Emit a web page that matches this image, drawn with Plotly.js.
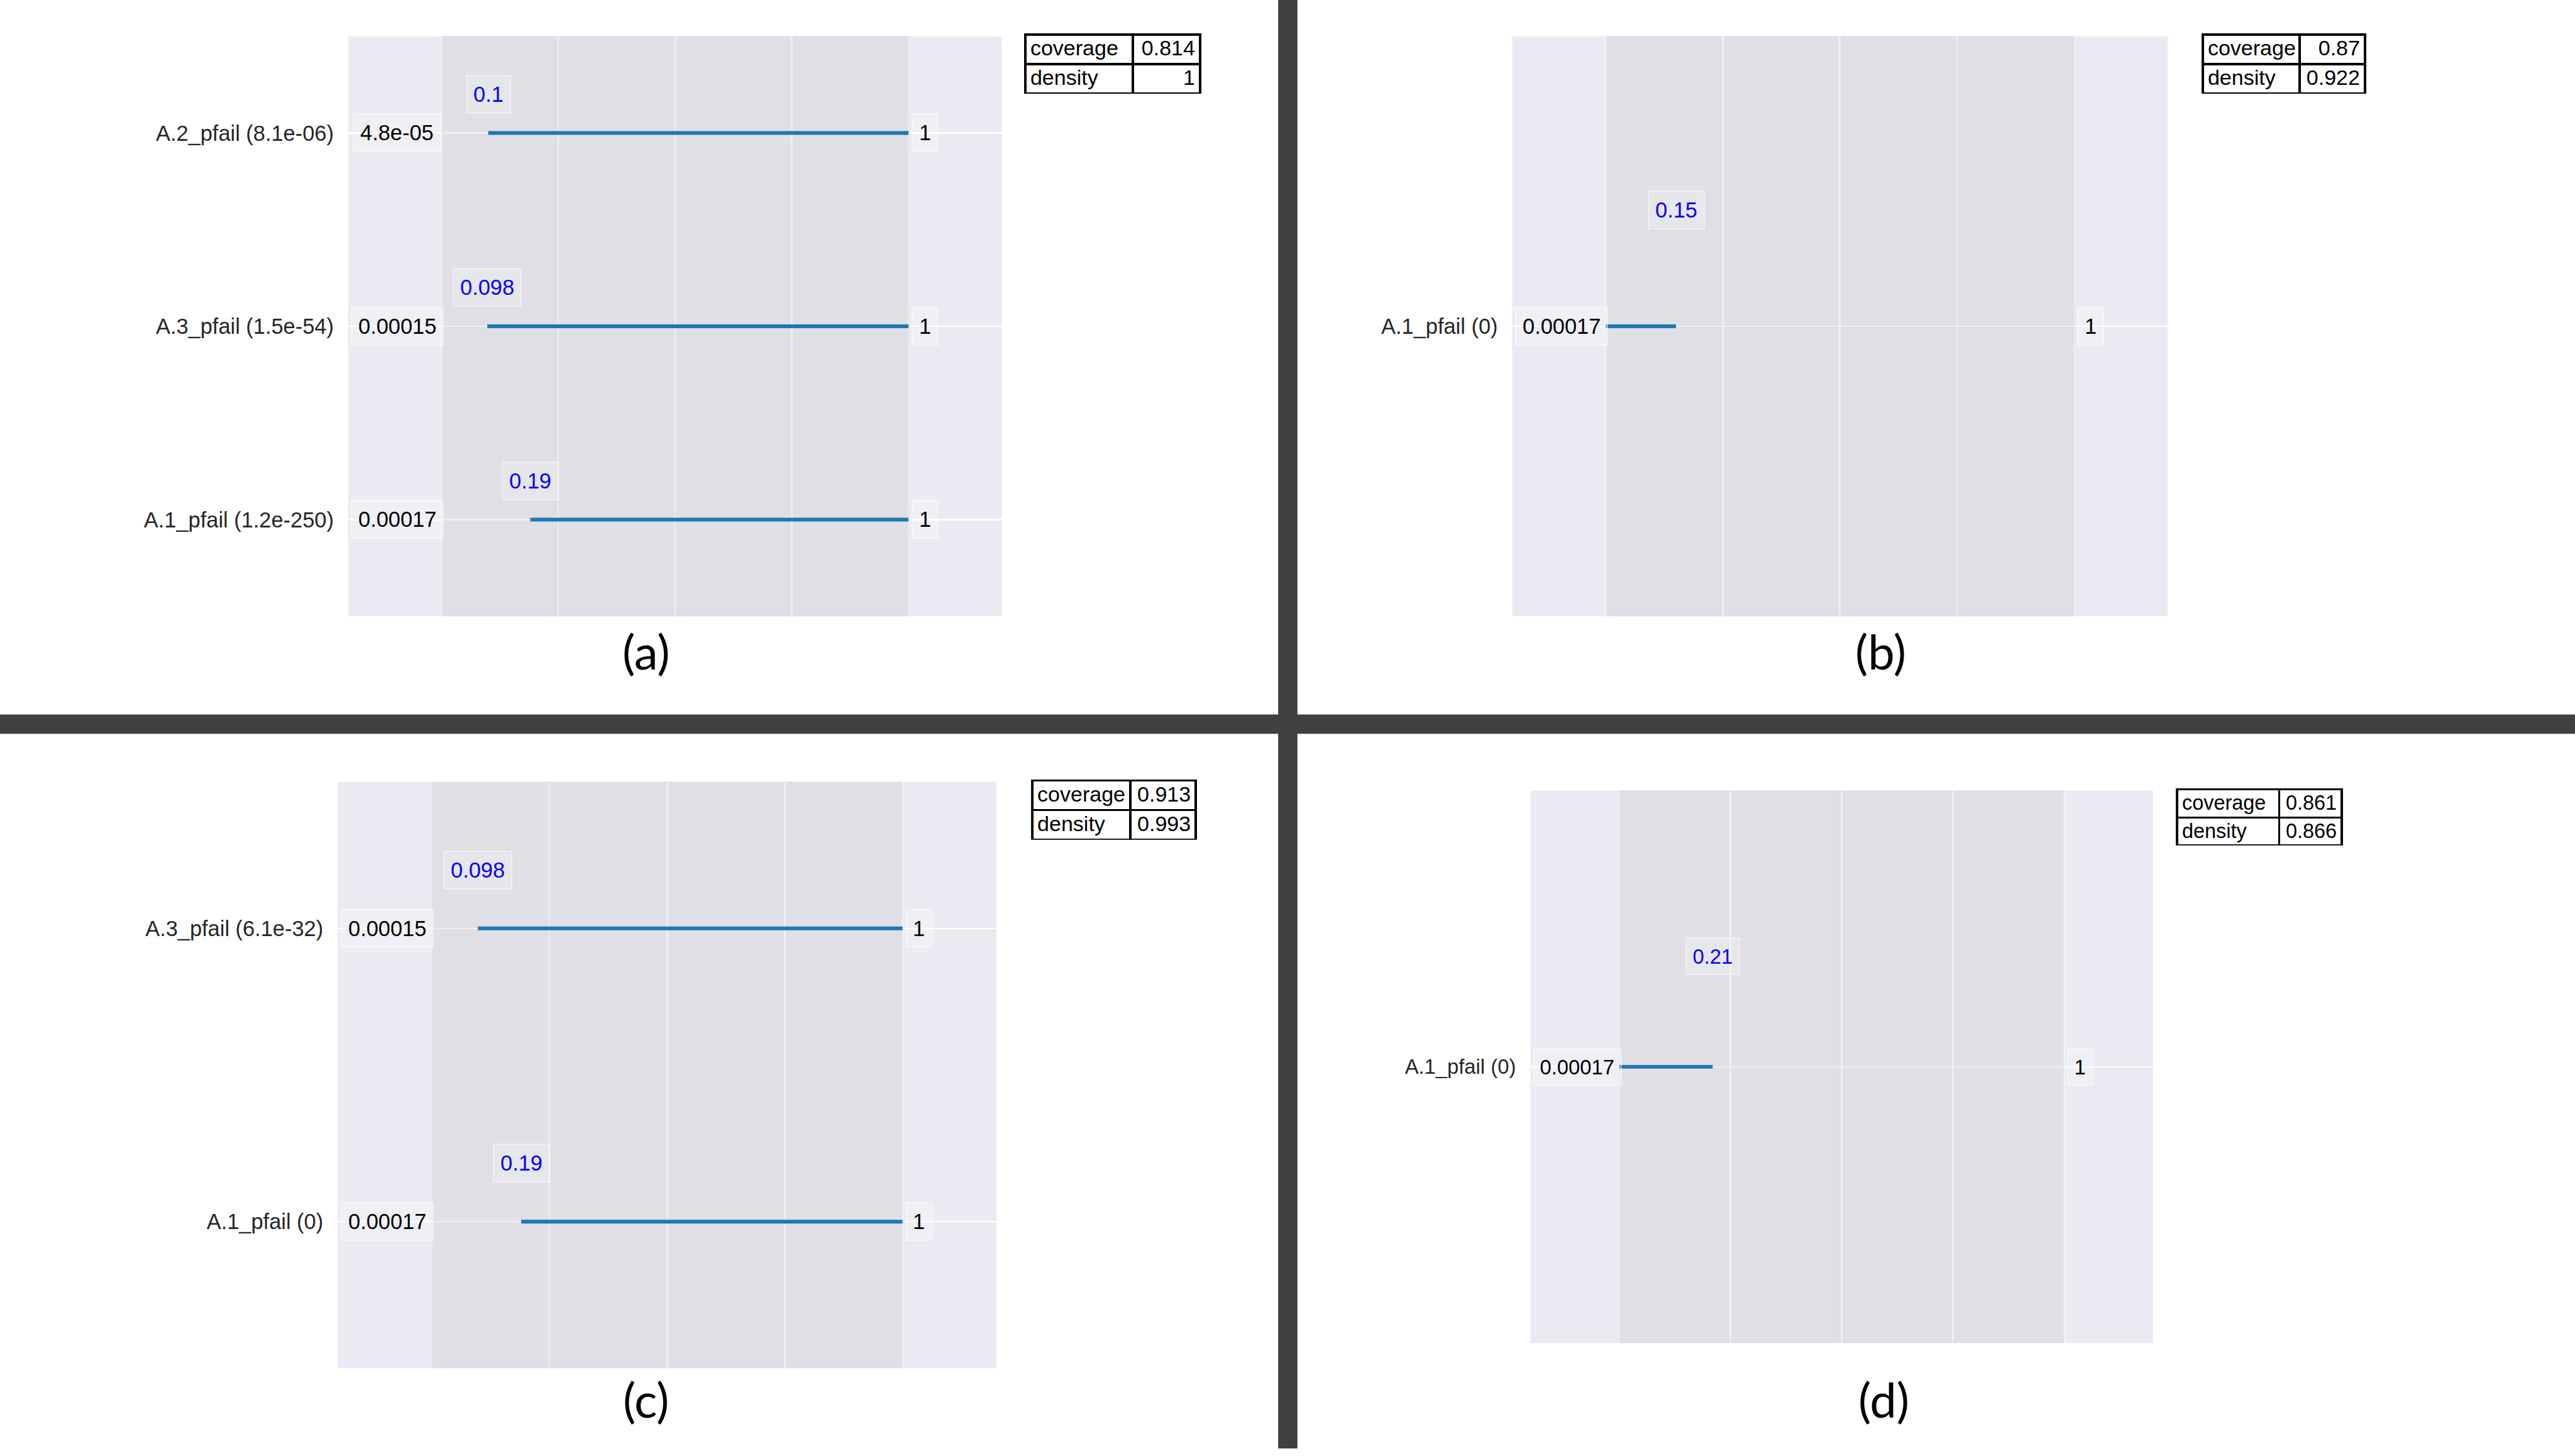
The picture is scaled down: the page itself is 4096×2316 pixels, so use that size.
<!DOCTYPE html>
<html>
<head>
<meta charset="utf-8">
<script src="https://cdn.plot.ly/plotly-3.0.1.min.js"></script>
<style>
  html, body { margin: 0; padding: 0; background: #ffffff; }
  #chart { width: 4096px; height: 2316px; }
</style>
</head>
<body>
<div id="chart"></div>
<script>
// ---------------- data ----------------
const panelTags = ['(a)', '(b)', '(c)', '(d)'];

// panel (a)
const uncsA = ['A.2_pfail', 'A.3_pfail', 'A.1_pfail'];
const qpA = [8.1e-06, 1.5e-54, 1.2e-250];
const initMinA = [4.8e-05, 0.00015, 0.00017];
const initMaxA = [1, 1, 1];
const boxLowA = [0.1, 0.098, 0.19];
const boxHighA = [1, 1, 1];

// panel (b)
const uncsB = ['A.1_pfail'];
const qpB = [0];
const initMinB = [0.00017];
const initMaxB = [1];
const boxLowB = [0.00017];
const boxHighB = [0.15];

// panel (c)
const uncsC = ['A.3_pfail', 'A.1_pfail'];
const qpC = [6.1e-32, 0];
const initMinC = [0.00015, 0.00017];
const initMaxC = [1, 1];
const boxLowC = [0.098, 0.19];
const boxHighC = [1, 1];

// panel (d)
const uncsD = ['A.1_pfail'];
const qpD = [0];
const initMinD = [0.00017];
const initMaxD = [1];
const boxLowD = [0.00017];
const boxHighD = [0.21];

// coverage / density tables
const tableRowNames = ['coverage', 'density'];
const coverage = [0.814, 0.87, 0.913, 0.861];
const density = [1, 0.922, 0.993, 0.866];

// ---------------- helpers ----------------
// python-like "{:.Ng}" formatting
function fmtG(v, p) {
  if (v === 0) return '0';
  const e = Math.floor(Math.log10(Math.abs(v)));
  if (e < -4 || e >= p) {
    let parts = v.toExponential(p - 1).split('e');
    let m = parts[0];
    if (m.indexOf('.') >= 0) m = m.replace(/0+$/, '').replace(/\.$/, '');
    const n = parseInt(parts[1], 10);
    return m + 'e' + (n < 0 ? '-' : '+') + String(Math.abs(n)).padStart(2, '0');
  }
  let s = v.toPrecision(p);
  if (s.indexOf('.') >= 0) s = s.replace(/0+$/, '').replace(/\.$/, '');
  return s;
}

// ---------------- layout geometry (reference pixels, 4400 x 2488) ----------------
const REFW = 4400, REFH = 2488, S = 0.93;
const FONT = '"Liberation Sans", Arial, Helvetica, sans-serif';
const TAGFONT = 'Lato, "Open Sans", sans-serif';

const panels = [
  { uncs: uncsA, qp: qpA, mn: initMinA, mx: initMaxA, lo: boxLowA, hi: boxHighA,
    plot: [595, 1712, 62, 1053], table: [1752, 2051, 59, 160], colw: [184, 115], tag: [1104, 1112], k: 1.0 },
  { uncs: uncsB, qp: qpB, mn: initMinB, mx: initMaxB, lo: boxLowB, hi: boxHighB,
    plot: [2584, 3704, 62, 1053], table: [3764, 4042, 59, 160], colw: [166, 112], tag: [3214, 1112], k: 1.0 },
  { uncs: uncsC, qp: qpC, mn: initMinC, mx: initMaxC, lo: boxLowC, hi: boxHighC,
    plot: [577, 1703, 1336, 2338], table: [1764, 2044, 1334, 1435], colw: [168, 112], tag: [1104, 2391], k: 1.0 },
  { uncs: uncsD, qp: qpD, mn: initMinD, mx: initMaxD, lo: boxLowD, hi: boxHighD,
    plot: [2615, 3679, 1351, 2295], table: [3720, 4002, 1349, 1445], colw: [175, 107], tag: [3219, 2391], k: 0.953 }
];

const px = x => x / REFW;
const py = y => 1 - y / REFH;

const traces = [];
const annotations = [];
const shapes = [];
const layout = {
  width: 4096, height: 2316,
  margin: { l: 0, r: 0, t: 0, b: 0, pad: 0 },
  paper_bgcolor: '#ffffff',
  plot_bgcolor: '#EAEAF2',
  showlegend: false,
  font: { family: FONT, color: '#262626' },
  annotations: annotations,
  shapes: shapes
};

const boxBg = 'rgba(255,255,255,0.25)';
const boxLine = 'rgba(255,255,255,0.45)';

panels.forEach((p, i) => {
  const id = i === 0 ? '' : String(i + 1);
  const xa = 'x' + id, ya = 'y' + id;
  const n = p.uncs.length;
  const fs = 34.4 * p.k;

  layout['xaxis' + id] = {
    domain: [px(p.plot[0]), px(p.plot[1])],
    anchor: ya,
    range: [-0.2, 1.2],
    tickvals: [0, 0.25, 0.5, 0.75, 1],
    showticklabels: false,
    ticks: '',
    showgrid: true, gridcolor: '#ffffff', gridwidth: 2.6,
    zeroline: false, showline: false, fixedrange: true
  };
  layout['yaxis' + id] = {
    domain: [py(p.plot[3]), py(p.plot[2])],
    anchor: xa,
    range: [n - 0.5, -0.5],
    tickvals: p.uncs.map((u, j) => j),
    ticktext: p.uncs.map((u, j) => u + ' (' + fmtG(p.qp[j], 2) + ')'),
    ticks: '',
    ticklabelstandoff: 22,
    tickfont: { family: FONT, size: fs, color: '#262626' },
    showgrid: true, gridcolor: '#ffffff', gridwidth: 2.6,
    zeroline: false, showline: false, fixedrange: true
  };

  // shaded region of the initial (normalised) box: x from 0 to 1
  traces.push({
    type: 'scatter', mode: 'lines',
    x: [0, 1, 1, 0, 0],
    y: [-0.5, -0.5, n - 0.5, n - 0.5, -0.5],
    xaxis: xa, yaxis: ya,
    fill: 'toself', fillcolor: 'rgba(192,192,192,0.25)',
    line: { color: 'rgba(192,192,192,0.3)', width: 1.5 },
    hoverinfo: 'skip', showlegend: false
  });

  p.uncs.forEach((u, j) => {
    const span = p.mx[j] - p.mn[j];
    const nlo = (p.lo[j] - p.mn[j]) / span;
    const nhi = (p.hi[j] - p.mn[j]) / span;
    traces.push({
      type: 'scatter', mode: 'lines',
      x: [nlo, nhi], y: [j, j],
      xaxis: xa, yaxis: ya,
      line: { color: '#1f77b4', width: 6 * p.k },
      hoverinfo: 'skip', showlegend: false
    });

    const common = {
      xref: xa, yref: ya, showarrow: false,
      xanchor: 'center', yanchor: 'middle',
      bgcolor: boxBg, bordercolor: boxLine, borderwidth: 2, borderpad: 10 * p.k
    };
    // box_init limits
    annotations.push(Object.assign({}, common, {
      x: -0.095, y: j, text: fmtG(p.mn[j], 2),
      font: { family: FONT, size: fs, color: '#000000' }
    }));
    annotations.push(Object.assign({}, common, {
      x: 1.035, y: j, text: fmtG(p.mx[j], 2),
      font: { family: FONT, size: fs, color: '#000000' }
    }));
    // restricted limits (blue)
    if (p.lo[j] > p.mn[j]) {
      annotations.push(Object.assign({}, common, {
        x: nlo, y: j - 0.2, text: fmtG(p.lo[j], 2),
        font: { family: FONT, size: fs, color: '#0000FF' }
      }));
    }
    if (p.hi[j] < p.mx[j]) {
      annotations.push(Object.assign({}, common, {
        x: nhi, y: j - 0.2, text: fmtG(p.hi[j], 2),
        font: { family: FONT, size: fs, color: '#0000FF' }
      }));
    }
  });

  // coverage / density table
  const th = (p.table[3] - p.table[2]) * S;
  const tfont = { family: FONT, size: 34 * p.k, color: '#000000' };
  traces.push({
    type: 'table',
    domain: { x: [px(p.table[0]), px(p.table[1])], y: [py(p.table[3]), py(p.table[2])] },
    columnwidth: p.colw,
    header: {
      values: [[tableRowNames[0]], [fmtG(coverage[i], 3)]],
      align: ['left', 'right'],
      line: { color: '#000000', width: 3.3 },
      fill: { color: '#ffffff' },
      font: tfont,
      height: th / 2
    },
    cells: {
      values: [[tableRowNames[1]], [fmtG(density[i], 3)]],
      align: ['left', 'right'],
      line: { color: '#000000', width: 3.3 },
      fill: { color: '#ffffff' },
      font: tfont,
      height: th / 2
    }
  });

  // panel tag
  annotations.push({
    xref: 'paper', yref: 'paper', x: px(p.tag[0]), y: py(p.tag[1]),
    xanchor: 'center', yanchor: 'middle', showarrow: false,
    text: panelTags[i],
    font: { family: TAGFONT, size: 76, color: '#000000' }
  });
});

// dark separators between the four figures
shapes.push({
  type: 'rect', xref: 'paper', yref: 'paper',
  x0: px(2184), x1: px(2217), y0: py(2475), y1: 1,
  fillcolor: '#404040', line: { width: 0 }, layer: 'above'
});
shapes.push({
  type: 'rect', xref: 'paper', yref: 'paper',
  x0: 0, x1: 1, y0: py(1254), y1: py(1221),
  fillcolor: '#404040', line: { width: 0 }, layer: 'above'
});

Plotly.newPlot('chart', traces, layout, { staticPlot: true, displayModeBar: false });
</script>
</body>
</html>
